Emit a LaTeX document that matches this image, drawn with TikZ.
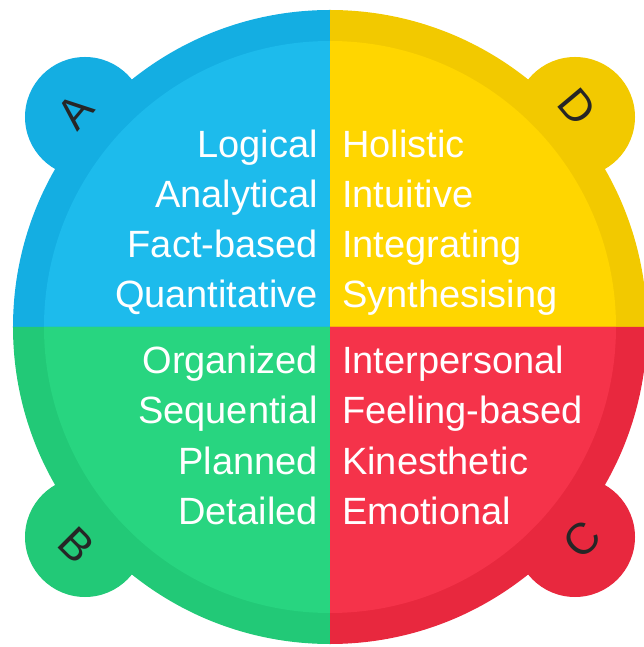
\documentclass[tikz,border=0pt]{standalone}
\usepackage{fontspec}
\setmainfont{Liberation Sans}
\usepackage{tikz}
\usetikzlibrary{calc}
\definecolor{blueRim}{HTML}{14AEE2}
\definecolor{blueIn}{HTML}{1DBBEC}
\definecolor{yellowRim}{HTML}{F2C900}
\definecolor{yellowIn}{HTML}{FFD600}
\definecolor{greenRim}{HTML}{22C977}
\definecolor{greenIn}{HTML}{28D580}
\definecolor{redRim}{HTML}{E8283E}
\definecolor{redIn}{HTML}{F5334A}
\tikzset{word/.style={text=white,font=\fontsize{38}{38}\selectfont,inner sep=0pt},
letter/.style={text=black!85,font=\fontsize{44}{44}\selectfont,inner sep=0pt}}

\begin{document}
\begin{tikzpicture}[x=1pt,y=1pt]
\useasboundingbox (-330,-320) rectangle (314,327);
\clip (-330,-320) rectangle (314,327);
% quadrants with their bumps
\foreach \a/\rim/\inn/\bx/\by in {90/blueRim/blueIn/-245/210,0/yellowRim/yellowIn/245/210,180/greenRim/greenIn/-245/-210,270/redRim/redIn/245/-210}{
\fill[\rim] (\bx,\by) circle (60);
\fill[\rim] (0,0) -- (\a:317) arc (\a:\a+90:317) -- cycle;
\fill[\inn] (0,0) -- (\a:286) arc (\a:\a+90:286) -- cycle;
}
% words
\foreach \word/\y [count=\i] in {Logical/169,Analytical/119,Fact-based/69,Quantitative/19}
\node[word,anchor=base east] (a\i) at (-12,\y) {\word};
\foreach \word/\y [count=\i] in {Holistic/169,Intuitive/119,Integrating/69,Synthesising/19}
\node[word,anchor=base west] (d\i) at (12,\y) {\word};
\foreach \word/\y [count=\i] in {Organized/-47,Sequential/-97,Planned/-147,Detailed/-197}
\node[word,anchor=base east] (b\i) at (-12,\y) {\word};
\foreach \word/\y [count=\i] in {Interpersonal/-47,Feeling-based/-97,Kinesthetic/-147,Emotional/-197}
\node[word,anchor=base west] (c\i) at (12,\y) {\word};
% letters
\node[letter,rotate=50] (lA) at (-255,215) {A};
\node[letter,rotate=-50] (lD) at (247,220) {D};
\node[letter,rotate=-45] (lB) at (-253,-218) {B};
\node[letter,rotate=45] (lC) at (252,-213) {C};
\end{tikzpicture}
\end{document}
